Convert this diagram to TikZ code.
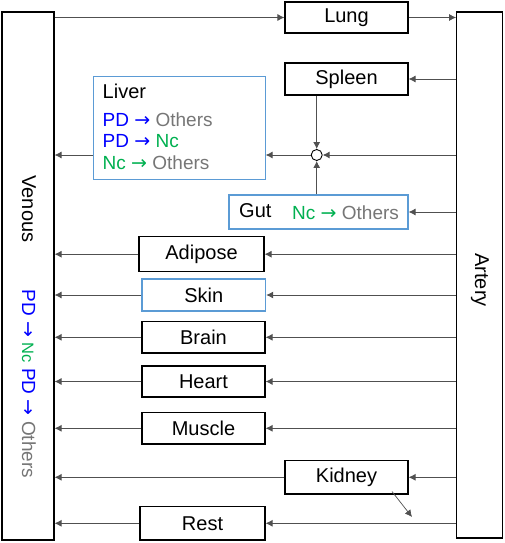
\documentclass[tikz,border=0pt]{standalone}
\usepackage{fontspec}
\setmainfont{Liberation Sans}
\newfontfamily\arrfont{DejaVu Sans}
\usetikzlibrary{arrows.meta}
\definecolor{cblue}{RGB}{0,0,255}
\definecolor{cgreen}{RGB}{0,176,80}
\definecolor{cgray}{RGB}{118,118,118}
\definecolor{bblue}{RGB}{91,155,213}
\definecolor{lgray}{RGB}{80,80,80}
\newcommand{\ar}{{\arrfont →}}
\begin{document}
\begin{tikzpicture}[x=1pt,y=-1pt,
  box/.style={draw=black,line width=1.1pt,inner sep=0pt,font=\fontsize{20}{24}\selectfont},
  bbox/.style={box,draw=bblue},
  conn/.style={draw=lgray,line width=0.9pt,-{Latex[length=7pt,width=7pt]}},
  txt/.style={inner sep=0pt,anchor=west,font=\fontsize{19}{22}\selectfont}]
\useasboundingbox (0,0) rectangle (505,543);
% big vessels
\node[box,minimum width=52pt,minimum height=528pt] (ven) at (28,276) {};
\node[box,minimum width=45.6pt,minimum height=526pt] (art) at (479.5,275) {};
\node[rotate=-90,font=\fontsize{20}{24}\selectfont,inner sep=0pt] (ventxt) at (29,209) {Venous};
\node[rotate=-90,font=\fontsize{19}{22}\selectfont,inner sep=0pt] (vencol) at (29,384)
  {\color{cblue}PD \ar{} \color{cgreen}{\fontsize{16.5}{18}\selectfont Nc} \color{cblue}PD \ar{} \color{cgray}Others};
\node[rotate=-90,font=\fontsize{20}{24}\selectfont,inner sep=0pt] (arttxt) at (480,280) {Artery};
% organs
\node[box,minimum width=123pt,minimum height=31pt] (lung) at (346.5,17.5) {Lung};
\node[box,minimum width=123pt,minimum height=32pt] (spleen) at (346.5,79) {Spleen};
\node[bbox,minimum width=171.7pt,minimum height=103.3pt] (liver) at (179.2,127.7) {};
\node[txt,font=\fontsize{20}{24}\selectfont] (livtxt) at (102.5,91) {Liver};
\node[txt] (l1) at (102.5,119.5) {\color{cblue}PD \ar{} \color{cgray}Others};
\node[txt] (l2) at (102.5,141.5) {\color{cblue}PD \ar{} \color{cgreen}Nc};
\node[txt] (l3) at (102.5,163) {\color{cgreen}Nc \ar{} \color{cgray}Others};
\node[bbox,minimum width=179pt,minimum height=34pt] (gut) at (318.5,212) {};
\node[txt,font=\fontsize{20}{24}\selectfont] (guttxt) at (239,211) {Gut};
\node[txt] (gut2) at (292,213) {\color{cgreen}Nc \ar{} \color{cgray}Others};
\node[box,minimum width=125pt,minimum height=35pt] (adipose) at (201.5,254.2) {Adipose};
\node[bbox,minimum width=123.7pt,minimum height=32pt] (skin) at (203.8,295) {Skin};
\node[box,minimum width=123pt,minimum height=31.3pt] (brain) at (203.5,337.3) {Brain};
\node[box,minimum width=123pt,minimum height=31pt] (heart) at (203.5,381.5) {Heart};
\node[box,minimum width=123pt,minimum height=31.3pt] (muscle) at (203.5,428.3) {Muscle};
\node[box,minimum width=123pt,minimum height=33.3pt] (kidney) at (346.5,477.3) {Kidney};
\node[box,minimum width=125pt,minimum height=33.3pt] (rest) at (202.5,523.3) {Rest};
\node[circle,draw=black,line width=0.9pt,minimum size=11pt,inner sep=0pt] (circ) at (316.7,155) {};
\coordinate (kd1) at (392,491.5);
\coordinate (kd2) at (412,517);
% connectors
\draw[conn] (ven.east |- lung.west) -- (lung.west);
\draw[conn] (lung.east) -- (art.west |- lung.east);
\draw[conn] (art.west |- spleen.east) -- (spleen.east);
\draw[conn] (art.west |- circ.east) -- (circ.east);
\draw[conn] (spleen.south -| circ.north) -- (circ.north);
\draw[conn] (gut.north -| circ.south) -- (circ.south);
\draw[conn] (circ.west) -- (liver.east |- circ.west);
\draw[conn] (liver.west |- circ.west) -- (ven.east |- circ.west);
\draw[conn] (art.west |- gut.east) -- (gut.east);
\foreach \o in {adipose,skin,brain,heart,muscle,kidney,rest}{
  \draw[conn] (\o.west) -- (ven.east |- \o.west);
}
\foreach \o in {adipose,skin,brain,heart,muscle,kidney,rest}{
  \draw[conn] (art.west |- \o.east) -- (\o.east);
}
\draw[conn,line width=0.7pt] (kd1) -- (kd2);
\end{tikzpicture}
\end{document}
